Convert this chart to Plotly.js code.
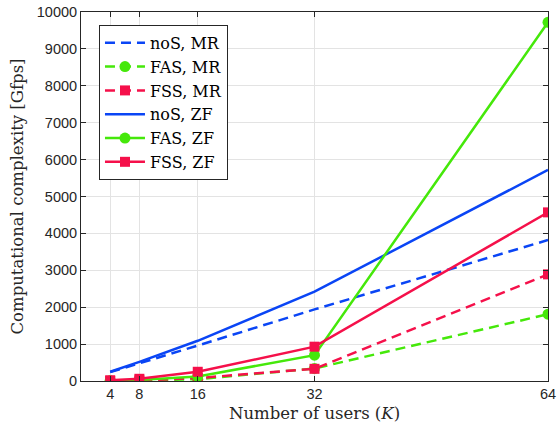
<!DOCTYPE html>
<html>
<head>
<meta charset="utf-8">
<script src="https://cdn.plot.ly/plotly-3.0.1.min.js"></script>
<style>html,body{margin:0;padding:0;background:#fff;}#chart{width:558px;height:432px;}</style>
</head>
<body>
<div id="chart"></div>
<script>
const users = [4, 8, 16, 32, 64];
const xTickVals = [4, 8, 16, 32, 64];
const noS_MR = [240, 480, 960, 1940, 3820];
const FAS_MR = [2, 10, 50, 340, 1810];
const FSS_MR = [3, 15, 80, 330, 2890];
const noS_ZF = [250, 520, 1090, 2420, 5720];
const FAS_ZF = [4, 30, 120, 700, 9720];
const FSS_ZF = [20, 60, 250, 930, 4570];

const BLUE = '#0a45f5', GREEN = '#45e80a', RED = '#f5104a';
const dash = '10px,6px';
function tr(name, y, color, dashed, symbol) {
  const t = {
    x: users, y: y, name: name, type: 'scatter',
    mode: symbol ? 'lines+markers' : 'lines',
    line: {color: color, width: 2.5, dash: dashed ? dash : 'solid'}
  };
  if (symbol) t.marker = {symbol: symbol, size: symbol === 'circle' ? 11 : 10, color: color};
  return t;
}
const data = [
  tr('noS, MR', noS_MR, BLUE, true, null),
  tr('FAS, MR', FAS_MR, GREEN, true, 'circle'),
  tr('FSS, MR', FSS_MR, RED, true, 'square'),
  tr('noS, ZF', noS_ZF, BLUE, false, null),
  tr('FAS, ZF', FAS_ZF, GREEN, false, 'circle'),
  tr('FSS, ZF', FSS_ZF, RED, false, 'square')
];
const SERIF = 'DejaVu Serif, Liberation Serif, serif';
const tickFont = {family: 'Liberation Sans, Arial, sans-serif', size: 14.5, color: '#262626'};
const layout = {
  width: 558, height: 432,
  margin: {l: 81, r: 10, t: 12, b: 51},
  paper_bgcolor: '#fff', plot_bgcolor: '#fff',
  showlegend: true,
  legend: {
    x: 0.0385, y: 0.965, xanchor: 'left', yanchor: 'top',
    bgcolor: '#fff', bordercolor: '#262626', borderwidth: 1,
    font: {family: SERIF, size: 16, color: '#000'},
    tracegroupgap: 0, itemwidth: 40
  },
  xaxis: {
    range: [0, 64], tickvals: xTickVals, ticktext: xTickVals.map(String),
    showgrid: true, gridcolor: '#e3e3e3', gridwidth: 1,
    zeroline: false, showline: true, linecolor: '#262626', linewidth: 1, mirror: 'ticks',
    ticks: 'inside', ticklen: 5, tickcolor: '#262626',
    tickfont: tickFont,
    title: {text: 'Number of users (<i>K</i>)', font: {family: SERIF, size: 16.5, color: '#262626'}, standoff: 6}
  },
  yaxis: {
    range: [0, 10000], dtick: 1000, tickformat: 'd',
    showgrid: true, gridcolor: '#e3e3e3', gridwidth: 1,
    zeroline: false, showline: true, linecolor: '#262626', linewidth: 1, mirror: 'ticks',
    ticks: 'inside', ticklen: 5, tickcolor: '#262626',
    tickfont: tickFont,
    title: {text: 'Computational complexity [Gfps]', font: {family: SERIF, size: 16.5, color: '#262626'}, standoff: 8}
  }
};
Plotly.newPlot('chart', data, layout, {displayModeBar: false, staticPlot: true});
</script>
</body>
</html>
